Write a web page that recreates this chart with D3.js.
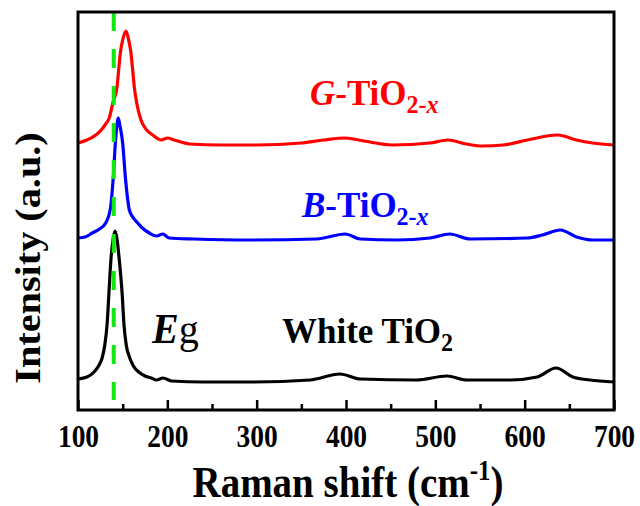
<!DOCTYPE html>
<html>
<head>
<meta charset="utf-8">
<script src="https://cdn.jsdelivr.net/npm/d3@7/dist/d3.min.js"></script>
<style>
  html, body { margin: 0; padding: 0; background: #fff; }
  svg { display: block; }
  text { font-family: "Liberation Serif", "Times New Roman", serif; font-weight: bold; }
</style>
</head>
<body>
<svg id="chart" width="640" height="506"></svg>
<script>
// Raman spectra: shift (cm^-1) and intensity (a.u.) for each sample
const gShift = [100,110,120,126,131,135,139,143.7,145.5,147.4,150,153.7,156.7,159.3,161.2,163,165.7,170.5,176.9,183.6,192.9,200.4,207.8,225,260,300,350,375,399,420,452,494,514,535,553,576,603,637,658,676,700];
const gIntensity = [267,270,275,280,286,292,307,323,340,357,370,379,370,357,340,323,307,290,280,275,270,272,270,266,265,265,267,270,272,269,265,267,270,266,264,265,270,275,270,267,265];

const bShift = [100,108,116,124,131,136,139.5,141.8,143.5,145.1,146.8,150,153,157.5,162,166.8,172,179.8,188,195,202,230,292,367,399,416,457,494,516,539,603,620,640,658,677,700];
const bIntensity = [172,173,177,181,187,200,233,267,284,292,285,267,233,200,192,187,182,177,174,176,172,171,170,171,176,171,170,172,176,171,172,175,180,173,170,170];

const wShift = [100,110,118,123,127,130,132.5,134.7,137,139.5,141.4,143.5,146,149.3,151.5,154,158,162,168,175,182,188,195,205,240,292,360,393,416,479,513,535,584,614,635,654,673,700];
const wIntensity = [31,33,38,44,52,65,85,118,152,172,179,172,152,118,85,65,52,44,38,34,32,30,32,29,28,28,30,36,31,30,34,30,30,33,42,33,30,28];

const egShift = 140;             // E_g mode marker
const xTicks = [100,200,300,400,500,600,700];
const xMinorTicks = [150,250,350,450,550,650];

const seriesColors = ["#ff0000", "#0000ff", "#000000"];

const svg = d3.select("#chart");
const plotLeft = 78, plotRight = 614, plotTop = 12, plotBottom = 410;
const stretch = 1.15;   // vertical scaling applied to axis lettering

const x = d3.scaleLinear().domain([100, 700]).range([plotLeft, plotRight]);
const y = d3.scaleLinear().domain([0, 398]).range([plotBottom, plotTop]);

const line = d3.line()
  .x(d => x(d[0]))
  .y(d => y(d[1]))
  .curve(d3.curveMonotoneX);

const series = [
  d3.zip(gShift, gIntensity),
  d3.zip(bShift, bIntensity),
  d3.zip(wShift, wIntensity)
];

svg.append("g")
  .selectAll("path")
  .data(series)
  .join("path")
  .attr("d", line)
  .attr("fill", "none")
  .attr("stroke", (d, i) => seriesColors[i])
  .attr("stroke-width", 3.2)
  .attr("stroke-linejoin", "round");

// dashed guide at the E_g band
svg.append("line")
  .attr("x1", x(egShift)).attr("x2", x(egShift))
  .attr("y1", plotTop).attr("y2", 400)
  .attr("stroke", "#11e611")
  .attr("stroke-width", 4)
  .attr("stroke-dasharray", "19,18");

// bottom axis: major ticks with labels, minor ticks inward
const xAxis = svg.append("g")
  .attr("transform", `translate(0,${plotBottom})`)
  .call(d3.axisBottom(x).tickValues(xTicks).tickSizeInner(-10).tickSizeOuter(0).tickFormat(d3.format("d")));
xAxis.select(".domain").remove();
xAxis.selectAll(".tick line").attr("stroke", "#000").attr("stroke-width", 2.5);
xAxis.selectAll(".tick text")
  .attr("y", null).attr("dy", null)
  .attr("transform", `translate(0,37) scale(1,${stretch})`)
  .attr("fill", "#000")
  .style("font-size", "27.5px")
  .style("font-family", "'Liberation Serif', 'Times New Roman', serif")
  .style("font-weight", "bold");

const xMinor = svg.append("g")
  .attr("transform", `translate(0,${plotBottom})`)
  .call(d3.axisBottom(x).tickValues(xMinorTicks).tickSizeInner(-6).tickSizeOuter(0).tickFormat(""));
xMinor.select(".domain").remove();
xMinor.selectAll(".tick line").attr("stroke", "#000").attr("stroke-width", 2.5);

// frame
svg.append("rect")
  .attr("x", plotLeft).attr("y", plotTop)
  .attr("width", plotRight - plotLeft).attr("height", plotBottom - plotTop)
  .attr("fill", "none").attr("stroke", "#000").attr("stroke-width", 3);

// axis titles
const xt = svg.append("text")
  .attr("transform", `translate(${(plotLeft + plotRight) / 2 + 2},497) scale(1,${stretch})`)
  .attr("text-anchor", "middle")
  .style("font-size", "39px");
xt.append("tspan").text("Raman shift (cm");
xt.append("tspan").attr("dy", -15).style("font-size", "25px").text("-1");
xt.append("tspan").attr("dy", 15).text(")");

svg.append("text")
  .attr("transform", `translate(40,258) rotate(-90) scale(${stretch},1)`)
  .attr("text-anchor", "middle")
  .style("font-size", "35px")
  .text("Intensity (a.u.)");

// sample labels
function formulaLabel(px, py, color, lead, subscript) {
  const t = svg.append("text")
    .attr("transform", `translate(${px},${py}) scale(1,1.04)`)
    .attr("fill", color)
    .style("font-size", "35px");
  if (lead) t.append("tspan").style("font-style", "italic").text(lead);
  t.append("tspan").text(lead ? "-TiO" : "White TiO");
  const s = t.append("tspan").attr("dy", 8).style("font-size", "24px");
  s.append("tspan").text(subscript ? "2-" : "2");
  if (subscript) s.append("tspan").style("font-style", "italic").text("x");
}
formulaLabel(310, 105, "#ff0000", "G", true);
formulaLabel(302, 217, "#0000ff", "B", true);
formulaLabel(282, 343, "#000000", null, false);

const eg = svg.append("text")
  .attr("transform", `translate(152,343) scale(1,1.05)`)
  .style("font-size", "40px");
eg.append("tspan").style("font-style", "italic").text("E");
eg.append("tspan").style("font-weight", "normal").text("g");
</script>
</body>
</html>
